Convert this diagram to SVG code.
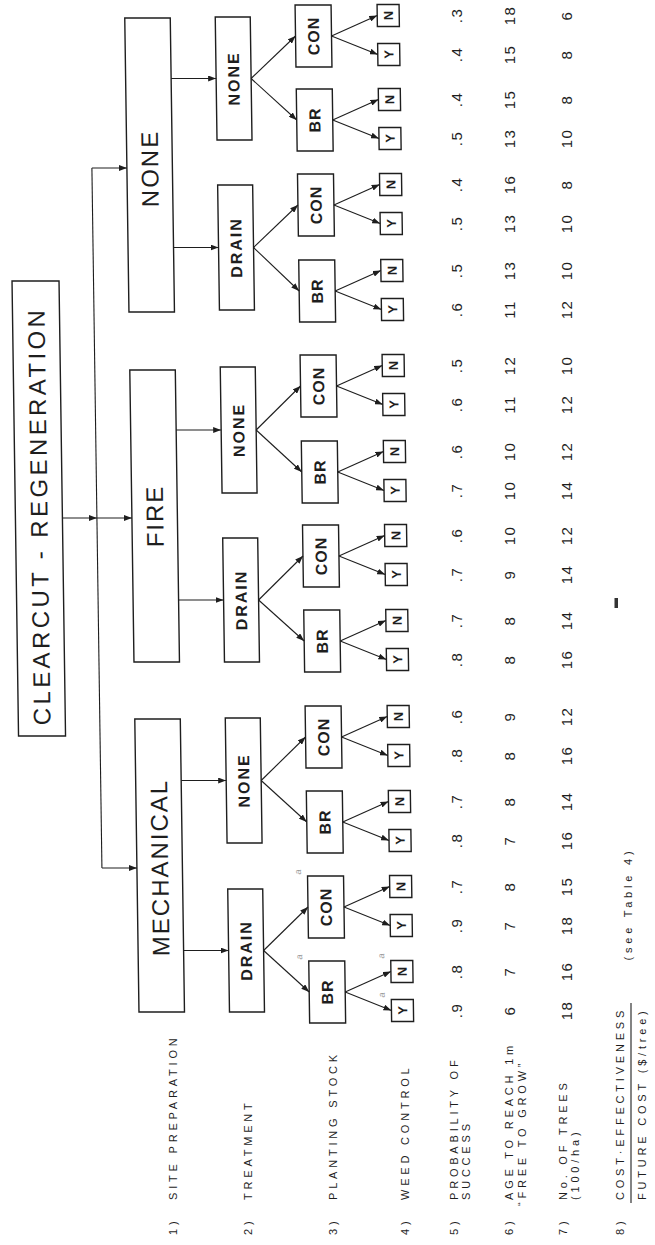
<svg xmlns="http://www.w3.org/2000/svg" width="655" height="1245" viewBox="0 0 655 1245">
<defs>
<marker id="ah" viewBox="0 0 8 6" refX="8" refY="3" markerWidth="8" markerHeight="6" markerUnits="userSpaceOnUse" orient="auto"><path d="M0,0 L8,3 L0,6 z" fill="#1e1e1e"/></marker>
<style>
.box{fill:none;stroke:#1e1e1e;stroke-width:1.4}
.ln{fill:none;stroke:#1e1e1e;stroke-width:1.1;marker-end:url(#ah)}
.pl{fill:none;stroke:#1e1e1e;stroke-width:1.1}
text{font-family:"Liberation Sans",Arial,sans-serif;fill:#1e1e1e}
.t0{font-size:24px;letter-spacing:3.4px;text-anchor:middle}
.t1{font-size:24px;letter-spacing:2px;text-anchor:middle}
.t2{font-size:16px;font-weight:bold;letter-spacing:2px;text-anchor:middle}
.t3{font-size:16px;font-weight:bold;letter-spacing:1px;text-anchor:middle}
.t4{font-size:13px;font-weight:bold;text-anchor:middle}
.num{font-size:15px;letter-spacing:1.5px;text-anchor:middle}
.lab{font-size:11px;letter-spacing:3.8px}
.sup{font-size:9px;font-style:italic;fill:#999;text-anchor:middle}
</style>
</defs>
<rect width="655" height="1245" fill="#fff"/>
<g transform="skewX(0.82)">
<g id="title"><rect class="box" x="8" y="281" width="47" height="455"/><text class="t0" transform="translate(40.1,516) rotate(-90)">CLEARCUT - REGENERATION</text></g>
<g id="site-none"><rect class="box" x="124.5" y="18" width="45.5" height="294"/><text class="t1" transform="translate(155.8,168.5) rotate(-90)">NONE</text></g>
<g id="site-fire"><rect class="box" x="124.5" y="370" width="45.5" height="292"/><text class="t1" transform="translate(155.8,516) rotate(-90)">FIRE</text></g>
<g id="site-mech"><rect class="box" x="124.5" y="719" width="45.5" height="293"/><text class="t1" transform="translate(155.8,867.5) rotate(-90)">MECHANICAL</text></g>
<g id="t-none-none"><rect class="box" x="215" y="17" width="35" height="123"/><text class="t2" transform="translate(238.2,78.5) rotate(-90)">NONE</text></g>
<g id="t-none-drain"><rect class="box" x="215" y="185" width="35" height="125"/><text class="t2" transform="translate(238.2,247.5) rotate(-90)">DRAIN</text></g>
<g id="t-fire-none"><rect class="box" x="215" y="367" width="35" height="126"/><text class="t2" transform="translate(238.2,430) rotate(-90)">NONE</text></g>
<g id="t-fire-drain"><rect class="box" x="215" y="538" width="35" height="124"/><text class="t2" transform="translate(238.2,600) rotate(-90)">DRAIN</text></g>
<g id="t-mech-none"><rect class="box" x="215" y="718" width="35" height="125"/><text class="t2" transform="translate(238.2,780.5) rotate(-90)">NONE</text></g>
<g id="t-mech-drain"><rect class="box" x="215" y="889" width="35" height="123"/><text class="t2" transform="translate(238.2,950.5) rotate(-90)">DRAIN</text></g>
<g id="p1"><rect class="box" x="295" y="5" width="36" height="62"/><text class="t3" transform="translate(318.7,36) rotate(-90)">CON</text></g>
<g id="p2"><rect class="box" x="295" y="89" width="36" height="62"/><text class="t3" transform="translate(318.7,120) rotate(-90)">BR</text></g>
<g id="p3"><rect class="box" x="295" y="174" width="36" height="62"/><text class="t3" transform="translate(318.7,205) rotate(-90)">CON</text></g>
<g id="p4"><rect class="box" x="295" y="260" width="36" height="62"/><text class="t3" transform="translate(318.7,291) rotate(-90)">BR</text></g>
<g id="p5"><rect class="box" x="295" y="355" width="36" height="62"/><text class="t3" transform="translate(318.7,386) rotate(-90)">CON</text></g>
<g id="p6"><rect class="box" x="295" y="441" width="36" height="62"/><text class="t3" transform="translate(318.7,472) rotate(-90)">BR</text></g>
<g id="p7"><rect class="box" x="295" y="525" width="36" height="62"/><text class="t3" transform="translate(318.7,556) rotate(-90)">CON</text></g>
<g id="p8"><rect class="box" x="295" y="610" width="36" height="62"/><text class="t3" transform="translate(318.7,641) rotate(-90)">BR</text></g>
<g id="p9"><rect class="box" x="295" y="706" width="36" height="62"/><text class="t3" transform="translate(318.7,737) rotate(-90)">CON</text></g>
<g id="p10"><rect class="box" x="295" y="791" width="36" height="62"/><text class="t3" transform="translate(318.7,822) rotate(-90)">BR</text></g>
<g id="p11"><rect class="box" x="295" y="876" width="36" height="62"/><text class="t3" transform="translate(318.7,907) rotate(-90)">CON</text></g>
<g id="p12"><rect class="box" x="295" y="961" width="36" height="62"/><text class="t3" transform="translate(318.7,992) rotate(-90)">BR</text></g>
<g id="w1"><rect class="box" x="377" y="4.5" width="22" height="22"/><text class="t4" transform="translate(392.7,15.5) rotate(-90)">N</text><rect class="box" x="377" y="43.5" width="22" height="22"/><text class="t4" transform="translate(392.7,54.5) rotate(-90)">Y</text></g>
<g id="w2"><rect class="box" x="377" y="88.5" width="22" height="22"/><text class="t4" transform="translate(392.7,99.5) rotate(-90)">N</text><rect class="box" x="377" y="127.5" width="22" height="22"/><text class="t4" transform="translate(392.7,138.5) rotate(-90)">Y</text></g>
<g id="w3"><rect class="box" x="377" y="173.5" width="22" height="22"/><text class="t4" transform="translate(392.7,184.5) rotate(-90)">N</text><rect class="box" x="377" y="212.5" width="22" height="22"/><text class="t4" transform="translate(392.7,223.5) rotate(-90)">Y</text></g>
<g id="w4"><rect class="box" x="377" y="259.5" width="22" height="22"/><text class="t4" transform="translate(392.7,270.5) rotate(-90)">N</text><rect class="box" x="377" y="298.5" width="22" height="22"/><text class="t4" transform="translate(392.7,309.5) rotate(-90)">Y</text></g>
<g id="w5"><rect class="box" x="377" y="354.5" width="22" height="22"/><text class="t4" transform="translate(392.7,365.5) rotate(-90)">N</text><rect class="box" x="377" y="393.5" width="22" height="22"/><text class="t4" transform="translate(392.7,404.5) rotate(-90)">Y</text></g>
<g id="w6"><rect class="box" x="377" y="440.5" width="22" height="22"/><text class="t4" transform="translate(392.7,451.5) rotate(-90)">N</text><rect class="box" x="377" y="479.5" width="22" height="22"/><text class="t4" transform="translate(392.7,490.5) rotate(-90)">Y</text></g>
<g id="w7"><rect class="box" x="377" y="524.5" width="22" height="22"/><text class="t4" transform="translate(392.7,535.5) rotate(-90)">N</text><rect class="box" x="377" y="563.5" width="22" height="22"/><text class="t4" transform="translate(392.7,574.5) rotate(-90)">Y</text></g>
<g id="w8"><rect class="box" x="377" y="609.5" width="22" height="22"/><text class="t4" transform="translate(392.7,620.5) rotate(-90)">N</text><rect class="box" x="377" y="648.5" width="22" height="22"/><text class="t4" transform="translate(392.7,659.5) rotate(-90)">Y</text></g>
<g id="w9"><rect class="box" x="377" y="705.5" width="22" height="22"/><text class="t4" transform="translate(392.7,716.5) rotate(-90)">N</text><rect class="box" x="377" y="744.5" width="22" height="22"/><text class="t4" transform="translate(392.7,755.5) rotate(-90)">Y</text></g>
<g id="w10"><rect class="box" x="377" y="790.5" width="22" height="22"/><text class="t4" transform="translate(392.7,801.5) rotate(-90)">N</text><rect class="box" x="377" y="829.5" width="22" height="22"/><text class="t4" transform="translate(392.7,840.5) rotate(-90)">Y</text></g>
<g id="w11"><rect class="box" x="377" y="875.5" width="22" height="22"/><text class="t4" transform="translate(392.7,886.5) rotate(-90)">N</text><rect class="box" x="377" y="914.5" width="22" height="22"/><text class="t4" transform="translate(392.7,925.5) rotate(-90)">Y</text></g>
<g id="w12"><rect class="box" x="377" y="960.5" width="22" height="22"/><text class="t4" transform="translate(392.7,971.5) rotate(-90)">N</text><rect class="box" x="377" y="999.5" width="22" height="22"/><text class="t4" transform="translate(392.7,1010.5) rotate(-90)">Y</text></g>
<g id="notes">
<text class="sup" transform="translate(288.5,872) rotate(-90)">a</text>
<text class="sup" transform="translate(288.5,957) rotate(-90)">a</text>
<text class="sup" transform="translate(370.5,956) rotate(-90)">a</text>
<text class="sup" transform="translate(370.5,995) rotate(-90)">a</text>
</g>
<g id="connectors">
<path class="pl" d="M89.5,168 V868"/>
<path class="ln" d="M55,518 H89.5"/>
<path class="ln" d="M89.5,168 H124.5"/>
<path class="ln" d="M89.5,518 H124.5"/>
<path class="ln" d="M89.5,868 H124.5"/>
<path class="ln" d="M170,78.5 H215"/>
<path class="ln" d="M170,247.5 H215"/>
<path class="ln" d="M170,430 H215"/>
<path class="ln" d="M170,600 H215"/>
<path class="ln" d="M170,780.5 H215"/>
<path class="ln" d="M170,950.5 H215"/>
<path class="ln" d="M250,78.5 L295,36"/><path class="ln" d="M250,78.5 L295,120"/>
<path class="ln" d="M250,247.5 L295,205"/><path class="ln" d="M250,247.5 L295,291"/>
<path class="ln" d="M250,430 L295,386"/><path class="ln" d="M250,430 L295,472"/>
<path class="ln" d="M250,600 L295,556"/><path class="ln" d="M250,600 L295,641"/>
<path class="ln" d="M250,780.5 L295,737"/><path class="ln" d="M250,780.5 L295,822"/>
<path class="ln" d="M250,950.5 L295,907"/><path class="ln" d="M250,950.5 L295,992"/>
<path class="ln" d="M331,36 L377,15.5"/><path class="ln" d="M331,36 L377,54.5"/>
<path class="ln" d="M331,120 L377,99.5"/><path class="ln" d="M331,120 L377,138.5"/>
<path class="ln" d="M331,205 L377,184.5"/><path class="ln" d="M331,205 L377,223.5"/>
<path class="ln" d="M331,291 L377,270.5"/><path class="ln" d="M331,291 L377,309.5"/>
<path class="ln" d="M331,386 L377,365.5"/><path class="ln" d="M331,386 L377,404.5"/>
<path class="ln" d="M331,472 L377,451.5"/><path class="ln" d="M331,472 L377,490.5"/>
<path class="ln" d="M331,556 L377,535.5"/><path class="ln" d="M331,556 L377,574.5"/>
<path class="ln" d="M331,641 L377,620.5"/><path class="ln" d="M331,641 L377,659.5"/>
<path class="ln" d="M331,737 L377,716.5"/><path class="ln" d="M331,737 L377,755.5"/>
<path class="ln" d="M331,822 L377,801.5"/><path class="ln" d="M331,822 L377,840.5"/>
<path class="ln" d="M331,907 L377,886.5"/><path class="ln" d="M331,907 L377,925.5"/>
<path class="ln" d="M331,992 L377,971.5"/><path class="ln" d="M331,992 L377,1010.5"/>
</g>
</g>
<g id="values">
<text class="num" transform="translate(462.4,15.5) rotate(-90)">.3</text><text class="num" transform="translate(515.4,15.5) rotate(-90)">18</text><text class="num" transform="translate(572.4,15.5) rotate(-90)">6</text>
<text class="num" transform="translate(462.4,54.5) rotate(-90)">.4</text><text class="num" transform="translate(515.4,54.5) rotate(-90)">15</text><text class="num" transform="translate(572.4,54.5) rotate(-90)">8</text>
<text class="num" transform="translate(462.4,99.5) rotate(-90)">.4</text><text class="num" transform="translate(515.4,99.5) rotate(-90)">15</text><text class="num" transform="translate(572.4,99.5) rotate(-90)">8</text>
<text class="num" transform="translate(462.4,138.5) rotate(-90)">.5</text><text class="num" transform="translate(515.4,138.5) rotate(-90)">13</text><text class="num" transform="translate(572.4,138.5) rotate(-90)">10</text>
<text class="num" transform="translate(462.4,184.5) rotate(-90)">.4</text><text class="num" transform="translate(515.4,184.5) rotate(-90)">16</text><text class="num" transform="translate(572.4,184.5) rotate(-90)">8</text>
<text class="num" transform="translate(462.4,223.5) rotate(-90)">.5</text><text class="num" transform="translate(515.4,223.5) rotate(-90)">13</text><text class="num" transform="translate(572.4,223.5) rotate(-90)">10</text>
<text class="num" transform="translate(462.4,270.5) rotate(-90)">.5</text><text class="num" transform="translate(515.4,270.5) rotate(-90)">13</text><text class="num" transform="translate(572.4,270.5) rotate(-90)">10</text>
<text class="num" transform="translate(462.4,309.5) rotate(-90)">.6</text><text class="num" transform="translate(515.4,309.5) rotate(-90)">11</text><text class="num" transform="translate(572.4,309.5) rotate(-90)">12</text>
<text class="num" transform="translate(462.4,365.5) rotate(-90)">.5</text><text class="num" transform="translate(515.4,365.5) rotate(-90)">12</text><text class="num" transform="translate(572.4,365.5) rotate(-90)">10</text>
<text class="num" transform="translate(462.4,404.5) rotate(-90)">.6</text><text class="num" transform="translate(515.4,404.5) rotate(-90)">11</text><text class="num" transform="translate(572.4,404.5) rotate(-90)">12</text>
<text class="num" transform="translate(462.4,451.5) rotate(-90)">.6</text><text class="num" transform="translate(515.4,451.5) rotate(-90)">10</text><text class="num" transform="translate(572.4,451.5) rotate(-90)">12</text>
<text class="num" transform="translate(462.4,490.5) rotate(-90)">.7</text><text class="num" transform="translate(515.4,490.5) rotate(-90)">10</text><text class="num" transform="translate(572.4,490.5) rotate(-90)">14</text>
<text class="num" transform="translate(462.4,535.5) rotate(-90)">.6</text><text class="num" transform="translate(515.4,535.5) rotate(-90)">10</text><text class="num" transform="translate(572.4,535.5) rotate(-90)">12</text>
<text class="num" transform="translate(462.4,574.5) rotate(-90)">.7</text><text class="num" transform="translate(515.4,574.5) rotate(-90)">9</text><text class="num" transform="translate(572.4,574.5) rotate(-90)">14</text>
<text class="num" transform="translate(462.4,620.5) rotate(-90)">.7</text><text class="num" transform="translate(515.4,620.5) rotate(-90)">8</text><text class="num" transform="translate(572.4,620.5) rotate(-90)">14</text>
<text class="num" transform="translate(462.4,659.5) rotate(-90)">.8</text><text class="num" transform="translate(515.4,659.5) rotate(-90)">8</text><text class="num" transform="translate(572.4,659.5) rotate(-90)">16</text>
<text class="num" transform="translate(462.4,716.5) rotate(-90)">.6</text><text class="num" transform="translate(515.4,716.5) rotate(-90)">9</text><text class="num" transform="translate(572.4,716.5) rotate(-90)">12</text>
<text class="num" transform="translate(462.4,755.5) rotate(-90)">.8</text><text class="num" transform="translate(515.4,755.5) rotate(-90)">8</text><text class="num" transform="translate(572.4,755.5) rotate(-90)">16</text>
<text class="num" transform="translate(462.4,801.5) rotate(-90)">.7</text><text class="num" transform="translate(515.4,801.5) rotate(-90)">8</text><text class="num" transform="translate(572.4,801.5) rotate(-90)">14</text>
<text class="num" transform="translate(462.4,840.5) rotate(-90)">.8</text><text class="num" transform="translate(515.4,840.5) rotate(-90)">7</text><text class="num" transform="translate(572.4,840.5) rotate(-90)">16</text>
<text class="num" transform="translate(462.4,886.5) rotate(-90)">.7</text><text class="num" transform="translate(515.4,886.5) rotate(-90)">8</text><text class="num" transform="translate(572.4,886.5) rotate(-90)">15</text>
<text class="num" transform="translate(462.4,925.5) rotate(-90)">.9</text><text class="num" transform="translate(515.4,925.5) rotate(-90)">7</text><text class="num" transform="translate(572.4,925.5) rotate(-90)">18</text>
<text class="num" transform="translate(462.4,971.5) rotate(-90)">.8</text><text class="num" transform="translate(515.4,971.5) rotate(-90)">7</text><text class="num" transform="translate(572.4,971.5) rotate(-90)">16</text>
<text class="num" transform="translate(462.4,1010.5) rotate(-90)">.9</text><text class="num" transform="translate(515.4,1010.5) rotate(-90)">6</text><text class="num" transform="translate(572.4,1010.5) rotate(-90)">18</text>
<rect x="614.5" y="598" width="3.5" height="10" fill="#333"/>
</g>
<g id="labels">
<text class="lab" transform="translate(177,1235) rotate(-90)">1)</text><text class="lab" transform="translate(177,1200) rotate(-90)">SITE PREPARATION</text>
<text class="lab" transform="translate(252,1235) rotate(-90)">2)</text><text class="lab" transform="translate(252,1200) rotate(-90)">TREATMENT</text>
<text class="lab" transform="translate(337,1235) rotate(-90)">3)</text><text class="lab" transform="translate(337,1200) rotate(-90)">PLANTING STOCK</text>
<text class="lab" transform="translate(409,1235) rotate(-90)">4)</text><text class="lab" transform="translate(409,1200) rotate(-90)">WEED CONTROL</text>
<text class="lab" transform="translate(458,1235) rotate(-90)">5)</text><text class="lab" transform="translate(458,1200) rotate(-90)">PROBABILITY OF</text><text class="lab" transform="translate(470,1200) rotate(-90)">SUCCESS</text>
<text class="lab" transform="translate(513,1235) rotate(-90)">6)</text><text class="lab" transform="translate(513,1200) rotate(-90)">AGE TO REACH 1m</text><text class="lab" transform="translate(525.5,1206) rotate(-90)">“FREE TO GROW”</text>
<text class="lab" transform="translate(566.5,1235) rotate(-90)">7)</text><text class="lab" transform="translate(566.5,1200) rotate(-90)">No. OF TREES</text><text class="lab" transform="translate(579,1200) rotate(-90)">(100/ha)</text>
<text class="lab" transform="translate(624,1235) rotate(-90)">8)</text><text class="lab" transform="translate(624,1200) rotate(-90)">COST·EFFECTIVENESS</text><text class="lab" transform="translate(646,1200) rotate(-90)">FUTURE COST ($/tree)</text>
<path class="pl" d="M631,1203 V1003"/>
<text class="lab" style="text-anchor:middle" transform="translate(632,904) rotate(-90)">(see Table 4)</text>
</g>
</svg>
